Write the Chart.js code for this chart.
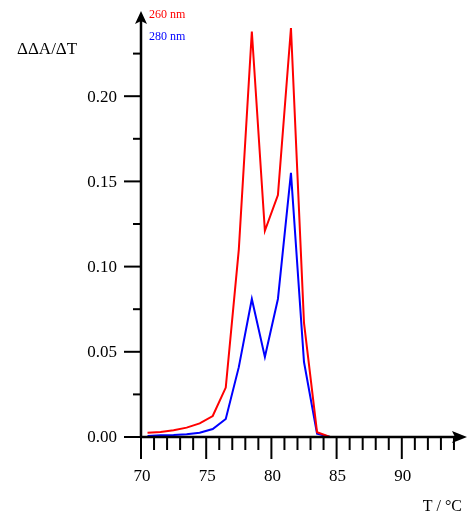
<!DOCTYPE html>
<html>
<head>
<meta charset="utf-8">
<script src="https://cdn.jsdelivr.net/npm/chart.js@4.4.1/dist/chart.umd.min.js"></script>
<style>
  html, body { margin: 0; padding: 0; background: #fff; }
  #wrap { width: 470px; height: 520px; position: relative; }
</style>
</head>
<body>
<div id="wrap"><canvas id="meltChart"></canvas></div>
<script>
// temperatures (°C) at which the derivative was sampled
const temps = [70.5, 71.5, 72.5, 73.5, 74.5, 75.5, 76.5, 77.5, 78.5, 79.5, 80.5, 81.5,
  82.5, 83.5, 84.5, 85.5, 86.5, 87.5, 88.5, 89.5, 90.5, 91.5, 92.5, 93.5];

const abs260 = [0.0025, 0.003, 0.004, 0.0055, 0.008, 0.0123, 0.029, 0.110, 0.238, 0.121, 0.142, 0.240,
  0.067, 0.0028, 0, 0, 0, 0, 0, 0, 0, 0, 0, 0];

const abs280 = [0.0006, 0.001, 0.0012, 0.0016, 0.0025, 0.0047, 0.0106, 0.041, 0.081, 0.047, 0.081, 0.155,
  0.044, 0.002, 0, 0, 0, 0, 0, 0, 0, 0, 0, 0];

const xTickLabels = [70, 75, 80, 85, 90];
const yTickLabels = [0, 0.05, 0.10, 0.15, 0.20];
const seriesNames = ["260 nm", "280 nm"];

const X_MIN = 70;
const X_MAX = 95;
const Y_MIN = 0;
const Y_MAX = 0.25;
const FONT = "'Liberation Serif', 'DejaVu Serif', serif";

const axesPlugin = {
  id: "arrowAxes",
  afterDraw(chart) {
    const { ctx, scales } = chart;
    const xs = scales.x;
    const ys = scales.y;
    const x0 = xs.getPixelForValue(X_MIN);
    const y0 = ys.getPixelForValue(Y_MIN);
    const xEnd = xs.getPixelForValue(X_MAX);
    const yEnd = ys.getPixelForValue(Y_MAX);

    ctx.save();
    ctx.strokeStyle = "#000";
    ctx.fillStyle = "#000";
    ctx.lineWidth = 2.5;
    ctx.lineCap = "butt";

    // axis lines
    ctx.beginPath();
    ctx.moveTo(x0, y0);
    ctx.lineTo(x0, yEnd + 10);
    ctx.moveTo(x0, y0);
    ctx.lineTo(xEnd - 10, y0);
    ctx.stroke();

    // arrowheads
    ctx.beginPath();
    ctx.moveTo(x0, yEnd);
    ctx.lineTo(x0 - 6, yEnd + 13);
    ctx.lineTo(x0, yEnd + 10);
    ctx.lineTo(x0 + 6, yEnd + 13);
    ctx.closePath();
    ctx.fill();

    ctx.beginPath();
    ctx.moveTo(xEnd, y0);
    ctx.lineTo(xEnd - 15, y0 - 6);
    ctx.lineTo(xEnd - 12, y0);
    ctx.lineTo(xEnd - 15, y0 + 6);
    ctx.closePath();
    ctx.fill();

    // x ticks: minor every 1, major every 5
    ctx.lineWidth = 2;
    for (let t = X_MIN; t < X_MAX; t += 1) {
      const px = xs.getPixelForValue(t);
      const len = t % 5 === 0 ? 22 : 13;
      ctx.beginPath();
      ctx.moveTo(px, y0);
      ctx.lineTo(px, y0 + len);
      ctx.stroke();
    }

    // y ticks: minor every 0.025, major every 0.05
    for (let i = 0; i <= 9; i += 1) {
      const py = ys.getPixelForValue(i * 0.025);
      const len = i % 2 === 0 ? 17 : 8;
      ctx.beginPath();
      ctx.moveTo(x0, py);
      ctx.lineTo(x0 - len, py);
      ctx.stroke();
    }

    // tick labels
    ctx.font = `17px ${FONT}`;
    ctx.textBaseline = "middle";
    ctx.textAlign = "center";
    xTickLabels.forEach((v) => {
      ctx.fillText(String(v), xs.getPixelForValue(v) + 1, y0 + 40);
    });
    ctx.textAlign = "right";
    yTickLabels.forEach((v) => {
      ctx.fillText(v.toFixed(2), x0 - 24, ys.getPixelForValue(v) + 1);
    });

    // axis titles
    ctx.font = `17px ${FONT}`;
    ctx.textAlign = "left";
    ctx.fillText("ΔΔA/ΔT", 17, 50);
    ctx.font = `16px ${FONT}`;
    ctx.textAlign = "right";
    ctx.fillText("T / °C", 462, 507);

    // series labels
    ctx.font = `12px ${FONT}`;
    ctx.textAlign = "left";
    ctx.fillStyle = "#ff0000";
    ctx.fillText(seriesNames[0], x0 + 8, 15);
    ctx.fillStyle = "#0000ff";
    ctx.fillText(seriesNames[1], x0 + 8, 37);
    ctx.restore();
  },
};

const ctx = document.getElementById("meltChart");

new Chart(ctx, {
  type: "line",
  data: {
    labels: temps,
    datasets: [
      {
        label: seriesNames[0],
        data: temps.map((t, i) => ({ x: t, y: abs260[i] })),
        borderColor: "#ff0000",
        borderWidth: 2,
        pointRadius: 0,
        tension: 0,
        fill: false,
      },
      {
        label: seriesNames[1],
        data: temps.map((t, i) => ({ x: t, y: abs280[i] })),
        borderColor: "#0000ff",
        borderWidth: 2,
        pointRadius: 0,
        tension: 0,
        fill: false,
      },
    ],
  },
  options: {
    responsive: true,
    maintainAspectRatio: false,
    animation: false,
    layout: { padding: { left: 141, right: 3, top: 11, bottom: 83 } },
    plugins: {
      legend: { display: false },
      tooltip: { enabled: false },
    },
    scales: {
      x: { type: "linear", min: X_MIN, max: X_MAX, display: false },
      y: { min: Y_MIN, max: Y_MAX, display: false },
    },
  },
  plugins: [axesPlugin],
});
</script>
</body>
</html>
